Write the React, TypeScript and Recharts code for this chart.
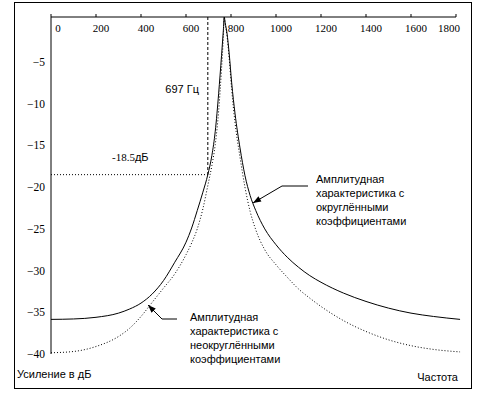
import React from "react";
import { LineChart, Line, XAxis, YAxis, ReferenceLine } from "recharts";

// частота, Гц
const freqs = [
  0, 100, 200, 300, 350, 400, 450, 500, 550, 600, 625, 650, 675, 697, 715, 730, 745, 758, 766, 770,
  774, 782, 792, 803, 818, 840, 862, 885, 910, 950, 1000, 1050, 1100, 1150, 1200, 1300, 1400, 1500,
  1600, 1700, 1818,
];
// АЧХ с округлёнными коэффициентами, дБ
const rounded = [
  -35.85, -35.8, -35.6, -35.1, -34.6, -33.9, -32.8, -31.2, -29.0, -26.6, -24.9, -22.8, -20.6, -18.5,
  -16.2, -13.3, -8.8, -4.2, -1.2, 0.4, -0.3, -1.5, -4.0, -7.5, -11.2, -15.3, -18.6, -21.0, -22.8,
  -25.0, -26.9, -28.4, -29.6, -30.6, -31.4, -32.7, -33.7, -34.5, -35.1, -35.5, -35.85,
];
// АЧХ с неокруглёнными коэффициентами, дБ
const unrounded = [
  -39.85, -39.7, -39.1, -37.9, -36.9, -35.5, -33.8, -32.1, -30.4, -28.1, -26.7, -25.0, -22.6, -19.8,
  -17.4, -14.9, -10.9, -5.8, -2.0, 0.4, -0.4, -1.8, -4.6, -8.3, -12.3, -16.4, -20.0, -22.9, -25.1,
  -27.5, -29.3, -30.8, -32.2, -33.3, -34.3, -36.0, -37.3, -38.3, -39.0, -39.45, -39.75,
];
const xTicks = [0, 200, 400, 600, 800, 1000, 1200, 1400, 1600, 1800];
const yTicks = [-40, -35, -30, -25, -20, -15, -10, -5];
const markFreq = 697;
const markGain = -18.5;

const data = freqs.map((f, i) => ({ f, rounded: rounded[i], unrounded: unrounded[i] }));

const serif = '"Liberation Serif", "Times New Roman", serif';
const sans = '"Liberation Sans", Arial, sans-serif';

const FreqTick = (props: any) => {
  const { x, y, payload } = props;
  const v = payload.value;
  const last = v === 1800;
  return (
    <text
      x={last ? x + 4 : v === 0 ? x + 7 : x + 5}
      y={y + 20}
      textAnchor={last ? "end" : "middle"}
      style={{ fontFamily: serif, fontSize: 11 }}
      fill="#000"
    >
      {v}
    </text>
  );
};

const GainTick = (props: any) => {
  const { x, y, payload } = props;
  return (
    <text x={x} y={y + 4} textAnchor="end" style={{ fontFamily: serif, fontSize: 11.5 }} fill="#000">
      {"\u2212" + Math.abs(payload.value)}
    </text>
  );
};

function arrowHead(tip: [number, number], from: [number, number]) {
  const dx = tip[0] - from[0];
  const dy = tip[1] - from[1];
  const len = Math.hypot(dx, dy);
  const ux = dx / len;
  const uy = dy / len;
  const bx = tip[0] - 8 * ux;
  const by = tip[1] - 8 * uy;
  const px = -uy * 3;
  const py = ux * 3;
  return `${tip[0]},${tip[1]} ${bx + px},${by + py} ${bx - px},${by - py}`;
}

const upperNote = ["Амплитудная", "характеристика с", "округлёнными", "коэффициентами"];
const lowerNote = ["Амплитудная", "характеристика с", "неокруглёнными", "коэффициентами"];

const sansStyle = { fontFamily: sans, fontSize: 11 };

export default function App() {
  return (
    <div style={{ position: "absolute", left: 0, top: 0, width: 478, height: 394, background: "#fff" }}>
      <div
        style={{
          position: "absolute",
          left: 14,
          top: 2,
          width: 458,
          height: 387,
          border: "1px solid #000",
          boxSizing: "border-box",
        }}
      />
      <div style={{ position: "absolute", left: 0, top: 0 }}>
        <LineChart width={478} height={394} data={data} margin={{ top: 7, right: 17.5, bottom: 40, left: 15 }}>
          <XAxis
            dataKey="f"
            type="number"
            orientation="top"
            domain={[0, 1820]}
            ticks={xTicks}
            height={10}
            axisLine={false}
            tickSize={3}
            tickMargin={2}
            tickLine={{ stroke: "#000" }}
            tick={<FreqTick />}
          />
          <YAxis
            type="number"
            domain={[-40, 0.4]}
            ticks={yTicks}
            width={36}
            axisLine={{ stroke: "#000" }}
            tickLine={false}
            tickSize={4}
            tickMargin={2}
            tick={<GainTick />}
          />
          <ReferenceLine
            segment={[{ x: 0, y: 0.4 }, { x: 1800, y: 0.4 }]}
            stroke="#000"
            ifOverflow="visible"
          />
          <ReferenceLine
            segment={[{ x: markFreq, y: 0.4 }, { x: markFreq, y: markGain }]}
            stroke="#000"
            strokeDasharray="3 2"
          />
          <ReferenceLine
            segment={[{ x: 0, y: markGain }, { x: markFreq, y: markGain }]}
            stroke="#000"
            strokeDasharray="1 2"
          />
          <Line
            dataKey="unrounded"
            type="monotone"
            stroke="#000"
            strokeWidth={1}
            strokeDasharray="1 2"
            dot={false}
            isAnimationActive={false}
          />
          <Line
            dataKey="rounded"
            type="monotone"
            stroke="#000"
            strokeWidth={1}
            dot={false}
            isAnimationActive={false}
          />
        </LineChart>
      </div>
      <svg
        width={478}
        height={394}
        style={{ position: "absolute", left: 0, top: 0, pointerEvents: "none" }}
      >
        <text x={199} y={93} textAnchor="end" style={sansStyle} fill="#000">
          697 Гц
        </text>
        <text x={112} y={161} fill="#000" style={{ fontSize: 11 }}>
          <tspan style={{ fontFamily: serif }}>-18.5</tspan>
          <tspan style={{ fontFamily: sans }}>дБ</tspan>
        </text>

        <polyline points="253,203 282,186 308,186" fill="none" stroke="#000" />
        <polygon points={arrowHead([253, 203], [282, 186])} fill="#000" />
        {upperNote.map((s, i) => (
          <text key={i} x={316} y={183 + i * 14} style={sansStyle} fill="#000">
            {s}
          </text>
        ))}

        <polyline points="148,305 162,319 177,319" fill="none" stroke="#000" />
        <polygon points={arrowHead([148, 305], [162, 319])} fill="#000" />
        {lowerNote.map((s, i) => (
          <text key={i} x={190} y={321 + i * 14} style={sansStyle} fill="#000">
            {s}
          </text>
        ))}

        <text x={17} y={378} style={sansStyle} fill="#000">
          Усиление в дБ
        </text>
        <text x={458} y={381} textAnchor="end" style={sansStyle} fill="#000">
          Частота
        </text>
      </svg>
    </div>
  );
}
